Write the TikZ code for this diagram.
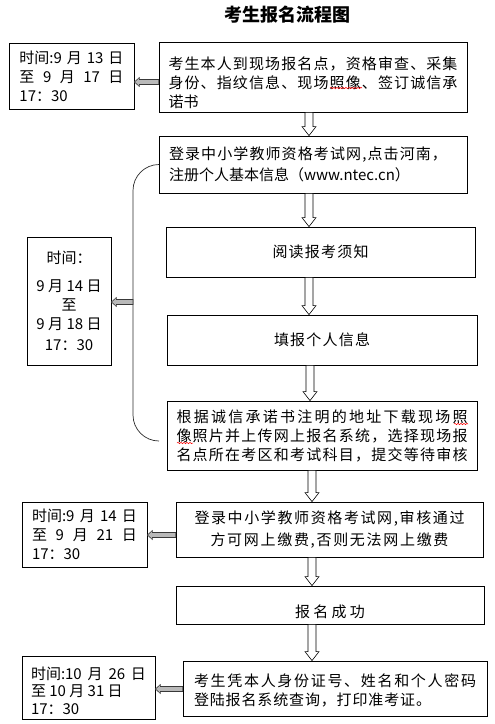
\documentclass[tikz,border=0pt]{standalone}
\usepackage{fontspec}
\setmainfont{Noto Sans CJK SC}
\usetikzlibrary{calc,decorations.pathmorphing}
\makeatletter
\count@="3000
\loop\ifnum\count@<"A000 \XeTeXcharclass\count@=10 \advance\count@ 1 \repeat
\count@="FF00
\loop\ifnum\count@<"FFF0 \XeTeXcharclass\count@=10 \advance\count@ 1 \repeat
\makeatother
\XeTeXinterchartoks 10 10 = {\hskip 0pt plus 1fil\relax}
\XeTeXinterchartoks 10 0 = {\hskip 0pt plus 1fil\relax}
\XeTeXinterchartoks 0 10 = {\hskip 0pt plus 1fil\relax}
\newcommand\jl[2]{\makebox[#1][s]{\XeTeXinterchartokenstate=1 #2}}
\newcommand\sj[2]{\makebox[#1][s]{#2}}
% lower a block of text without changing its box size
\newcommand\lowered[3]{\raisebox{-#1}[\height][\depth]{\parbox{#2}{#3}}}
\newcommand\downarr[3]{%
  \path let \p1=(#1.south), \p2=(#2.north) in
    [draw=black, fill=white, line width=0.6pt, line join=miter]
    (#3pt-4pt,\y1) -- (#3pt-4pt,\y2+9pt) -- (#3pt-7pt,\y2+9pt) -- (#3pt,\y2)
    -- (#3pt+7pt,\y2+9pt) -- (#3pt+4pt,\y2+9pt) -- (#3pt+4pt,\y1) -- cycle;}
\newcommand\leftarr[3]{%
  \path let \p1=(#1), \p2=(#2.east) in
    [draw=gray!45!black, fill=gray!55, line width=0.6pt]
    (\x1,-#3pt+2.5pt) -- (\x2+5pt,-#3pt+2.5pt) -- (\x2+5pt,-#3pt+4.5pt) -- (\x2,-#3pt)
    -- (\x2+5pt,-#3pt-4.5pt) -- (\x2+5pt,-#3pt-2.5pt) -- (\x1,-#3pt-2.5pt) -- cycle;}
\tikzset{
  box/.style={draw=black, line width=0.8pt, inner sep=0pt, font=\fontsize{15}{19}\selectfont},
  spell/.style={red, line width=0.5pt, decorate, decoration={snake, amplitude=0.7pt, segment length=3pt}}
}
\begin{document}
\begin{tikzpicture}[x=1pt,y=-1pt]
\useasboundingbox (0,0) rectangle (495,724);
\node[font=\fontsize{18}{22}\selectfont\bfseries] (title) at (287,15) {考生报名流程图};

\node[box, minimum width=125pt, minimum height=66pt, align=left] (l1) at (71.5,76)
  {\sj{104pt}{时间:9 月 13 日}\\ \sj{104pt}{至 9 月 17 日}\\ 17：30};
\node[box, minimum width=308pt, minimum height=70pt] (r1) at (313,77)
  {\lowered{6pt}{289pt}{\jl{289pt}{考生本人到现场报名点，资格审查、采集}\\ \jl{289pt}{身份、指纹信息、现场照像、签订诚信承}\\ 诺书}};
\node[box, minimum width=308pt, minimum height=57pt, align=left,
  font=\fontsize{15}{21}\selectfont] (r2) at (313,164.5)
  {\makebox[288pt][l]{\jl{278pt}{登录中小学教师资格考试网,点击河南，}}\\ 注册个人基本信息（www.ntec.cn）};
\node[box, minimum width=309pt, minimum height=50pt] (r3) at (320.5,252) {\jl{96pt}{阅读报考须知}};
\node[box, minimum width=310pt, minimum height=50pt] (r4) at (322,340) {\jl{96pt}{填报个人信息}};
\node[box, minimum width=310pt, minimum height=69pt, align=left] (r5) at (322,435.5)
  {\jl{291pt}{根据诚信承诺书注明的地址下载现场照}\\ \jl{291pt}{像照片并上传网上报名系统，选择现场报}\\ \jl{291pt}{名点所在考区和考试科目，提交等待审核}};
\node[box, minimum width=84pt, minimum height=128pt, align=center] (l2) at (69,301)
  {时间：\\[9pt] 9 月 14 日\\ 至\\ 9 月 18 日\\[2pt] 17：30};
\node[box, minimum width=307pt, minimum height=55pt, align=center,
  font=\fontsize{15}{22}\selectfont] (r6) at (329.5,529.5)
  {\jl{270pt}{登录中小学教师资格考试网,审核通过}\\ \jl{238pt}{方可网上缴费,否则无法网上缴费}};
\node[box, minimum width=125pt, minimum height=65pt, align=left] (l3) at (84.5,534.5)
  {\sj{105pt}{时间:9 月 14 日}\\ \sj{105pt}{至 9 月 21 日}\\ 17：30};
\node[box, minimum width=308pt, minimum height=38pt] (r7) at (330,605)
  {\raisebox{-7pt}[\height][\depth]{\jl{70pt}{报名成功}}};
\node[box, minimum width=304pt, minimum height=55pt] (r8) at (335,688.5)
  {\lowered{2pt}{282pt}{\jl{282pt}{考生凭本人身份证号、姓名和个人密码}\\ \jl{237pt}{登陆报名系统查询，打印准考证。}}};
\node[box, minimum width=133pt, minimum height=63pt,
  font=\fontsize{15}{17.5}\selectfont] (l4) at (88.5,687.5)
  {\lowered{3pt}{115pt}{\sj{115pt}{时间:10 月 26 日}\\ 至 10 月 31 日\\ 17：30}};

% bracket
\coordinate (bt) at (133,164.5);
\coordinate (bb) at (133,441);
\coordinate (be) at (159,441);
\coordinate (brk) at (133,302);
\draw[gray!35!black, line width=0.7pt, rounded corners=26pt] (r2.west) -- (bt) -- (bb) -- (be);

% down arrows
\downarr{r1}{r2}{309}
\downarr{r2}{r3}{309}
\downarr{r3}{r4}{309}
\downarr{r4}{r5}{310}
\downarr{r5}{r6}{312}
\downarr{r6}{r7}{312}
\downarr{r7}{r8}{312}

% left arrows
\leftarr{r1.west}{l1}{82}
\leftarr{brk}{l2}{302}
\leftarr{r6.west}{l3}{535}
\leftarr{r8.west}{l4}{689}

% spell-check marks
\draw[spell] (330,88) -- (362,88);
\draw[spell] (454,424) -- (468,424);
\draw[spell] (177,443) -- (193,443);
\end{tikzpicture}
\end{document}
